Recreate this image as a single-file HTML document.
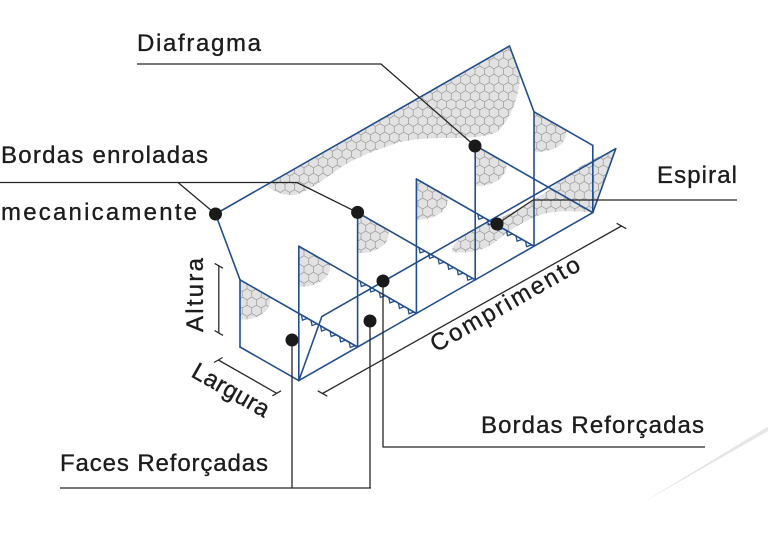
<!DOCTYPE html>
<html>
<head>
<meta charset="utf-8">
<style>
  html,body{margin:0;padding:0;background:#fff;}
  svg{display:block;}
  text{font-family:"Liberation Sans",Arial,sans-serif;font-size:24px;fill:#1c1c1c;stroke:#1c1c1c;stroke-width:0.35;}
</style>
</head>
<body>
<svg width="768" height="536" viewBox="0 0 768 536" xmlns="http://www.w3.org/2000/svg">
  <defs>
    <pattern id="hex" patternUnits="userSpaceOnUse" width="9.5" height="16.5">
      <path d="M4.75,0 L9.5,2.75 L9.5,8.25 L4.75,11 L0,8.25 L0,2.75 Z M4.75,11 L4.75,16.5" fill="none" stroke="#9c9c9c" stroke-width="0.75"/>
    </pattern>
  </defs>

  <!-- decorative swoosh -->
  <path d="M642,503 L768,426.5 L768,431 Z" fill="#e6e6e6"/>

  <!-- mesh blobs -->
  <g>
    <g fill="#e2e2e2">
      <path d="M266,184.6 L509.5,46 L520.5,75 C519,95 512,118 497,132 C485,138 465,138 447,138 C430,138 410,139 397,143 C380,149 360,155 340,168 C325,178 312,190 295,195 C283,196 272,191 266,184.6 Z"/>
      <path d="M452,252 C452,243 462,236 480,226 L505,216 C525,206 545,194 560,181 C575,168 595,158 615.8,148.6 L592.8,212.6 C575,211 555,210 540,215 C525,220 510,230 495,242 C485,250 470,254 452,252 Z"/>
      <path d="M240,279.8 l30,17 c2,12 -8,23 -30,23 Z"/>
      <path d="M298.8,246.2 l31,17.7 c2,12 -9,23 -31,23 Z"/>
      <path d="M357.6,212.6 l31,17.7 c2,12 -9,23 -31,23 Z"/>
      <path d="M416.4,179 l31,17.7 c2,12 -9,23 -31,23 Z"/>
      <path d="M475.2,145.4 l31,17.7 c2,12 -9,23 -31,23 Z"/>
      <path d="M534,111.8 l32,18.3 c2,12 -9,22 -32,22 Z"/>
    </g>
    <g fill="url(#hex)">
      <path d="M266,184.6 L509.5,46 L520.5,75 C519,95 512,118 497,132 C485,138 465,138 447,138 C430,138 410,139 397,143 C380,149 360,155 340,168 C325,178 312,190 295,195 C283,196 272,191 266,184.6 Z"/>
      <path d="M452,252 C452,243 462,236 480,226 L505,216 C525,206 545,194 560,181 C575,168 595,158 615.8,148.6 L592.8,212.6 C575,211 555,210 540,215 C525,220 510,230 495,242 C485,250 470,254 452,252 Z"/>
      <path d="M240,279.8 l30,17 c2,12 -8,23 -30,23 Z"/>
      <path d="M298.8,246.2 l31,17.7 c2,12 -9,23 -31,23 Z"/>
      <path d="M357.6,212.6 l31,17.7 c2,12 -9,23 -31,23 Z"/>
      <path d="M416.4,179 l31,17.7 c2,12 -9,23 -31,23 Z"/>
      <path d="M475.2,145.4 l31,17.7 c2,12 -9,23 -31,23 Z"/>
      <path d="M534,111.8 l32,18.3 c2,12 -9,22 -32,22 Z"/>
    </g>
  </g>

  <!-- blue structure -->
  <g stroke="#234e8c" stroke-width="1.6" fill="none" stroke-linejoin="round" stroke-linecap="round">
    <path d="M240,279.8 L215.5,214 L509.5,46 L534,111.8"/>
    <path d="M240,279.8 V347"/>
    <path d="M298.8,246.2 V380.6"/>
    <path d="M357.6,212.6 V347"/>
    <path d="M416.4,179 V313.4"/>
    <path d="M475.2,145.4 V279.8"/>
    <path d="M534,111.8 V246.2"/>
    <path d="M592.8,145.4 V212.6"/>
    <path d="M240,347 L298.8,380.6"/>
    <path d="M240,279.8 L357.6,347"/>
    <path d="M298.8,246.2 L416.4,313.4"/>
    <path d="M357.6,212.6 L475.2,279.8"/>
    <path d="M416.4,179 L534,246.2"/>
    <path d="M475.2,145.4 L592.8,212.6"/>
    <path d="M534,111.8 L592.8,145.4"/>
    <path d="M298.8,380.6 L592.8,212.6"/>
    <path d="M298.8,380.6 L321.8,316.6 L615.8,148.6 L592.8,212.6"/>
  </g>

  <!-- spirals -->
  <g stroke="#234e8c" stroke-width="1.3" fill="none" stroke-linejoin="miter">
    <g transform="translate(298.8,313.4) rotate(29.74)">
      <path d="M3,0 l3.5,4 l3.5,-4 l4,0 l3.5,4 l3.5,-4 l4,0 l3.5,4 l3.5,-4 l4,0 l3.5,4 l3.5,-4 l4,0 l3.5,4 l3.5,-4 l4,0 l3.5,4 l3.5,-4"/>
    </g>
    <g transform="translate(357.6,279.8) rotate(29.74)">
      <path d="M3,0 l3.5,4 l3.5,-4 l4,0 l3.5,4 l3.5,-4 l4,0 l3.5,4 l3.5,-4 l4,0 l3.5,4 l3.5,-4 l4,0 l3.5,4 l3.5,-4 l4,0 l3.5,4 l3.5,-4"/>
    </g>
    <g transform="translate(416.4,246.2) rotate(29.74)">
      <path d="M3,0 l3.5,4 l3.5,-4 l4,0 l3.5,4 l3.5,-4 l4,0 l3.5,4 l3.5,-4 l4,0 l3.5,4 l3.5,-4 l4,0 l3.5,4 l3.5,-4 l4,0 l3.5,4 l3.5,-4"/>
    </g>
    <g transform="translate(475.2,212.6) rotate(29.74)">
      <path d="M3,0 l3.5,4 l3.5,-4 l4,0 l3.5,4 l3.5,-4 l4,0 l3.5,4 l3.5,-4 l4,0 l3.5,4 l3.5,-4 l4,0 l3.5,4 l3.5,-4 l4,0 l3.5,4 l3.5,-4"/>
    </g>
  </g>

  <!-- dimension lines -->
  <g stroke="#2a2a2a" stroke-width="1.3" fill="none">
    <path d="M218.8,265.8 V333"/>
    <path d="M214.6,263.4 L223,268.2"/>
    <path d="M214.6,330.6 L223,335.4"/>
    <path d="M218.3,360 L276.7,393.3"/>
    <path d="M214,362.5 L222.6,357.5"/>
    <path d="M272.4,395.8 L281,390.8"/>
    <path d="M322.5,393.5 L621.5,226"/>
    <path d="M317.7,390.8 L327.3,396.2"/>
    <path d="M616.7,223.3 L626.3,228.7"/>
  </g>

  <!-- leader lines -->
  <g stroke="#262626" stroke-width="1.3" fill="none" stroke-linejoin="round">
    <path d="M137,64 H381 L475,146"/>
    <path d="M0,182.5 H297 L357.6,212.6"/>
    <path d="M178,182.5 L215.5,214"/>
    <path d="M497,224 L533,200 H737"/>
    <path d="M383,281 V447 H705"/>
    <path d="M60,488 H371"/>
    <path d="M292,340 V488"/>
    <path d="M370,321 V488"/>
  </g>

  <!-- dots -->
  <g fill="#1a1a1a">
    <circle cx="215.5" cy="214" r="6.5"/>
    <circle cx="357.6" cy="212.4" r="6.5"/>
    <circle cx="475" cy="146" r="6.5"/>
    <circle cx="497" cy="224" r="6.5"/>
    <circle cx="383" cy="281" r="6.5"/>
    <circle cx="370" cy="321" r="6.5"/>
    <circle cx="292" cy="340" r="6.5"/>
  </g>

  <!-- labels -->
  <text x="137" y="51" textLength="124" lengthAdjust="spacing">Diafragma</text>
  <text x="1" y="163" textLength="207" lengthAdjust="spacing">Bordas enroladas</text>
  <text x="1" y="220" textLength="196" lengthAdjust="spacing">mecanicamente</text>
  <text x="657" y="183" textLength="80" lengthAdjust="spacing">Espiral</text>
  <text x="481" y="433" textLength="223" lengthAdjust="spacing">Bordas Reforçadas</text>
  <text x="60" y="471" textLength="208" lengthAdjust="spacing">Faces Reforçadas</text>
  <text transform="translate(203,295) rotate(-90)" x="0" y="0" text-anchor="middle" textLength="74" lengthAdjust="spacing">Altura</text>
  <text transform="translate(227,397) rotate(29.6)" x="0" y="0" text-anchor="middle" textLength="85" lengthAdjust="spacing">Largura</text>
  <text transform="translate(509,311) rotate(-29.7)" x="0" y="0" text-anchor="middle" textLength="168" lengthAdjust="spacing">Comprimento</text>
</svg>
</body>
</html>
